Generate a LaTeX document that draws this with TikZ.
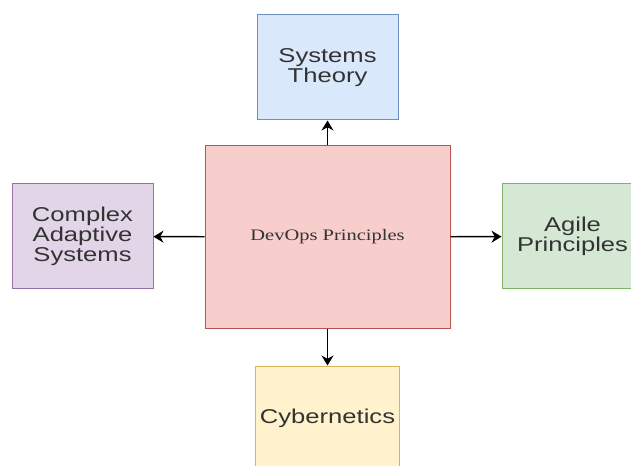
\documentclass[tikz,border=0pt]{standalone}
\usepackage{fontspec}
\usetikzlibrary{arrows.meta}
\newfontfamily\boxfont[FakeStretch=1.28]{Liberation Sans}
\newfontfamily\centrefont[FakeStretch=1.28]{Liberation Serif}
\definecolor{blueFill}{HTML}{DAE8FC}
\definecolor{blueLine}{HTML}{6C8EBF}
\definecolor{redFill}{HTML}{F8CECC}
\definecolor{redLine}{HTML}{B85450}
\definecolor{purpleFill}{HTML}{E1D5E7}
\definecolor{purpleLine}{HTML}{9673A6}
\definecolor{greenFill}{HTML}{D5E8D4}
\definecolor{greenLine}{HTML}{82B366}
\definecolor{yellowFill}{HTML}{FFF2CC}
\definecolor{yellowLine}{HTML}{D6B656}
\definecolor{textGrey}{HTML}{333333}
\tikzset{
	box/.style={draw, line width=0.75pt, minimum width=105.75pt, minimum height=78.75pt,
		align=center, text=textGrey, font=\boxfont\fontsize{15pt}{15pt}\selectfont},
	link/.style={line width=1.1pt, -{Stealth[length=7.5pt,width=9pt]}}
}
\begin{document}
\begin{tikzpicture}[x=0.75pt,y=-0.75pt]

	\useasboundingbox (0,0) rectangle (631,466);

	\node[box, fill=redFill, draw=redLine, minimum width=183.75pt, minimum height=136.5pt,
		font=\centrefont\fontsize{12pt}{14pt}\selectfont] (devops) at (327.5,237) {DevOps Principles};

	\node[box, fill=blueFill, draw=blueLine] (theory) at (327.5,67.5) {Systems\\Theory};
	\node[box, fill=purpleFill, draw=purpleLine] (cas) at (82.5,236.5) {Complex\\Adaptive\\Systems};
	\node[box, fill=greenFill, draw=greenLine] (agile) at (572.5,236.5) {Agile\\Principles};
	\node[box, fill=yellowFill, draw=yellowLine] (cyber) at (327.5,418.5) {Cybernetics};

	\draw[link] (devops) -- (theory);
	\draw[link] (devops) -- (cas);
	\draw[link] (devops) -- (agile);
	\draw[link] (devops) -- (cyber);
\end{tikzpicture}
\end{document}
